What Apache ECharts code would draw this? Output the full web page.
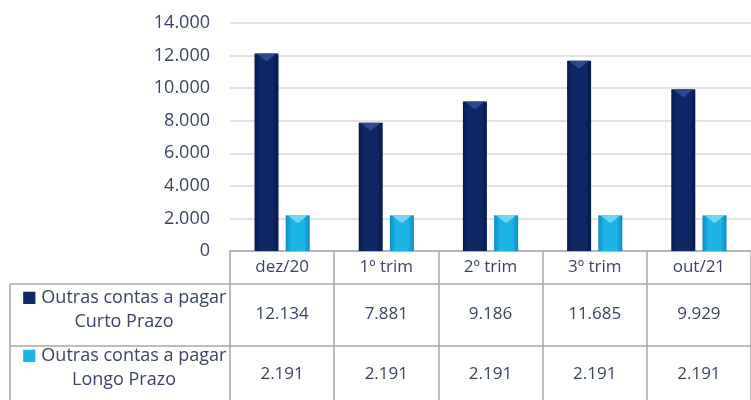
<!DOCTYPE html>
<html lang="pt" style="height: 100%">
<head>
    <meta charset="UTF-8">
    <title>Outras contas a pagar</title>
    <script src="https://cdn.jsdelivr.net/npm/echarts@6/dist/echarts.min.js"></script>
</head>
<body style="height: 100%; margin: 0; background: #fff">
<div id="container" style="width: 751px; height: 400px"></div>

<script type="text/javascript">
    // dados
    var categories = ['dez/20', '1º trim', '2º trim', '3º trim', 'out/21'];
    var curtoPrazo = [12134, 7881, 9186, 11685, 9929];
    var longoPrazo = [2191, 2191, 2191, 2191, 2191];
    var seriesNames = ['Outras contas a pagar\nCurto Prazo', 'Outras contas a pagar\nLongo Prazo'];
    var yTicks = [0, 2000, 4000, 6000, 8000, 10000, 12000, 14000];

    var textColor = '#3a4466';
    var lineColor = '#a6a6a6';
    var darkBlue = '#102766';
    var lightBlue = '#1db4e8';

    function fmt(v) {
        return String(v).replace(/\B(?=(\d{3})+(?!\d))/g, '.');
    }

    // geometria da tabela
    var gridLeft = 230, gridBottom = 149, H = 400;
    var axisY = H - gridBottom;          // 251
    var row1 = 33, row2 = 95;            // deslocamento das linhas da tabela
    var tableLeft = 10;
    var barW = 24, gapPct = 0.3;

    var dom = document.getElementById('container');
    var myChart = echarts.init(dom, null, {renderer: 'canvas'});

    function barColor(c1, c2) {
        return new echarts.graphic.LinearGradient(0, 0, 1, 0, [
            {offset: 0, color: c2},
            {offset: 0.25, color: c1},
            {offset: 0.75, color: c1},
            {offset: 1, color: c2}
        ]);
    }

    function tableAxis(data, offset, tickLen, margin) {
        return {
            type: 'category',
            data: data,
            position: 'bottom',
            offset: offset,
            axisLine: {show: true, lineStyle: {color: lineColor, width: 1.5}},
            axisTick: {show: true, length: tickLen, alignWithLabel: false,
                lineStyle: {color: lineColor, width: 1.5}},
            axisLabel: {margin: margin, color: textColor,
                fontFamily: 'Open Sans', fontSize: 17, interval: 0},
            splitLine: {show: false}
        };
    }

    // pequeno chanfro triangular no topo de cada barra
    function bevel(seriesIdx, color) {
        return function (params, api) {
            var top = api.coord([api.value(0), api.value(1)]);
            var band = api.size([1, 0])[0];
            var shift = (seriesIdx === 0 ? -1 : 1) * (barW * (1 + gapPct)) / 2;
            var cx = top[0] + shift;
            return {
                type: 'polygon',
                shape: {points: [[cx - barW / 2 + 2, top[1]], [cx + barW / 2 - 2, top[1]], [cx, top[1] + 8]]},
                style: {fill: color},
                silent: true
            };
        };
    }

    var rowLabelGraphics = [];
    [[darkBlue, axisY + row1, axisY + row2], [lightBlue, axisY + row2, H]].forEach(function (r, i) {
        var parts = seriesNames[i].split('\n');
        rowLabelGraphics.push({
            type: 'text',
            x: 124,
            y: (r[1] + r[2]) / 2 - 5,
            style: {
                text: '{ic|■} ' + parts[0] + '\n' + parts[1],
                align: 'center',
                verticalAlign: 'middle',
                fill: textColor,
                font: '18px "Open Sans"',
                lineHeight: 24,
                rich: {
                    ic: {fill: r[0], font: '16px "DejaVu Sans"'}
                }
            }
        });
    });

    var option = {
        animation: false,
        grid: {left: gridLeft, right: 0, top: 23, bottom: gridBottom, containLabel: false},
        xAxis: [
            tableAxis(categories, 0, row1, 8),
            tableAxis(curtoPrazo.map(fmt), row1, row2 - row1, 22),
            tableAxis(longoPrazo.map(fmt), row2, H - axisY - row2, 20)
        ],
        yAxis: {
            type: 'value',
            min: yTicks[0],
            max: yTicks[yTicks.length - 1],
            interval: 2000,
            axisLine: {show: false},
            axisTick: {show: false},
            axisLabel: {
                margin: 20, color: textColor, fontFamily: 'Open Sans', fontSize: 18,
                formatter: function (v) { return fmt(v); }
            },
            splitLine: {lineStyle: {color: '#d9d9d9', width: 1.5}}
        },
        series: [
            {
                name: seriesNames[0],
                type: 'bar',
                xAxisIndex: 0,
                data: curtoPrazo,
                barWidth: barW,
                barGap: (gapPct * 100) + '%',
                itemStyle: {color: barColor(darkBlue, '#071a4d')}
            },
            {
                name: seriesNames[1],
                type: 'bar',
                xAxisIndex: 0,
                data: longoPrazo,
                barWidth: barW,
                itemStyle: {color: barColor(lightBlue, '#0e8cc4')}
            },
            {
                type: 'custom',
                xAxisIndex: 0,
                renderItem: bevel(0, '#2c4a94'),
                data: curtoPrazo.map(function (v, i) { return [i, v]; }),
                z: 3
            },
            {
                type: 'custom',
                xAxisIndex: 0,
                renderItem: bevel(1, '#6fd6f6'),
                data: longoPrazo.map(function (v, i) { return [i, v]; }),
                z: 3
            }
        ],
        graphic: [
            {type: 'line', shape: {x1: tableLeft, y1: axisY + row1, x2: gridLeft, y2: axisY + row1},
                style: {stroke: lineColor, lineWidth: 1.5}},
            {type: 'line', shape: {x1: tableLeft, y1: axisY + row2, x2: gridLeft, y2: axisY + row2},
                style: {stroke: lineColor, lineWidth: 1.5}},
            {type: 'line', shape: {x1: tableLeft, y1: axisY + row1, x2: tableLeft, y2: H},
                style: {stroke: lineColor, lineWidth: 1.5}}
        ].concat(rowLabelGraphics)
    };
    myChart.setOption(option, true);
</script>
</body>
</html>
